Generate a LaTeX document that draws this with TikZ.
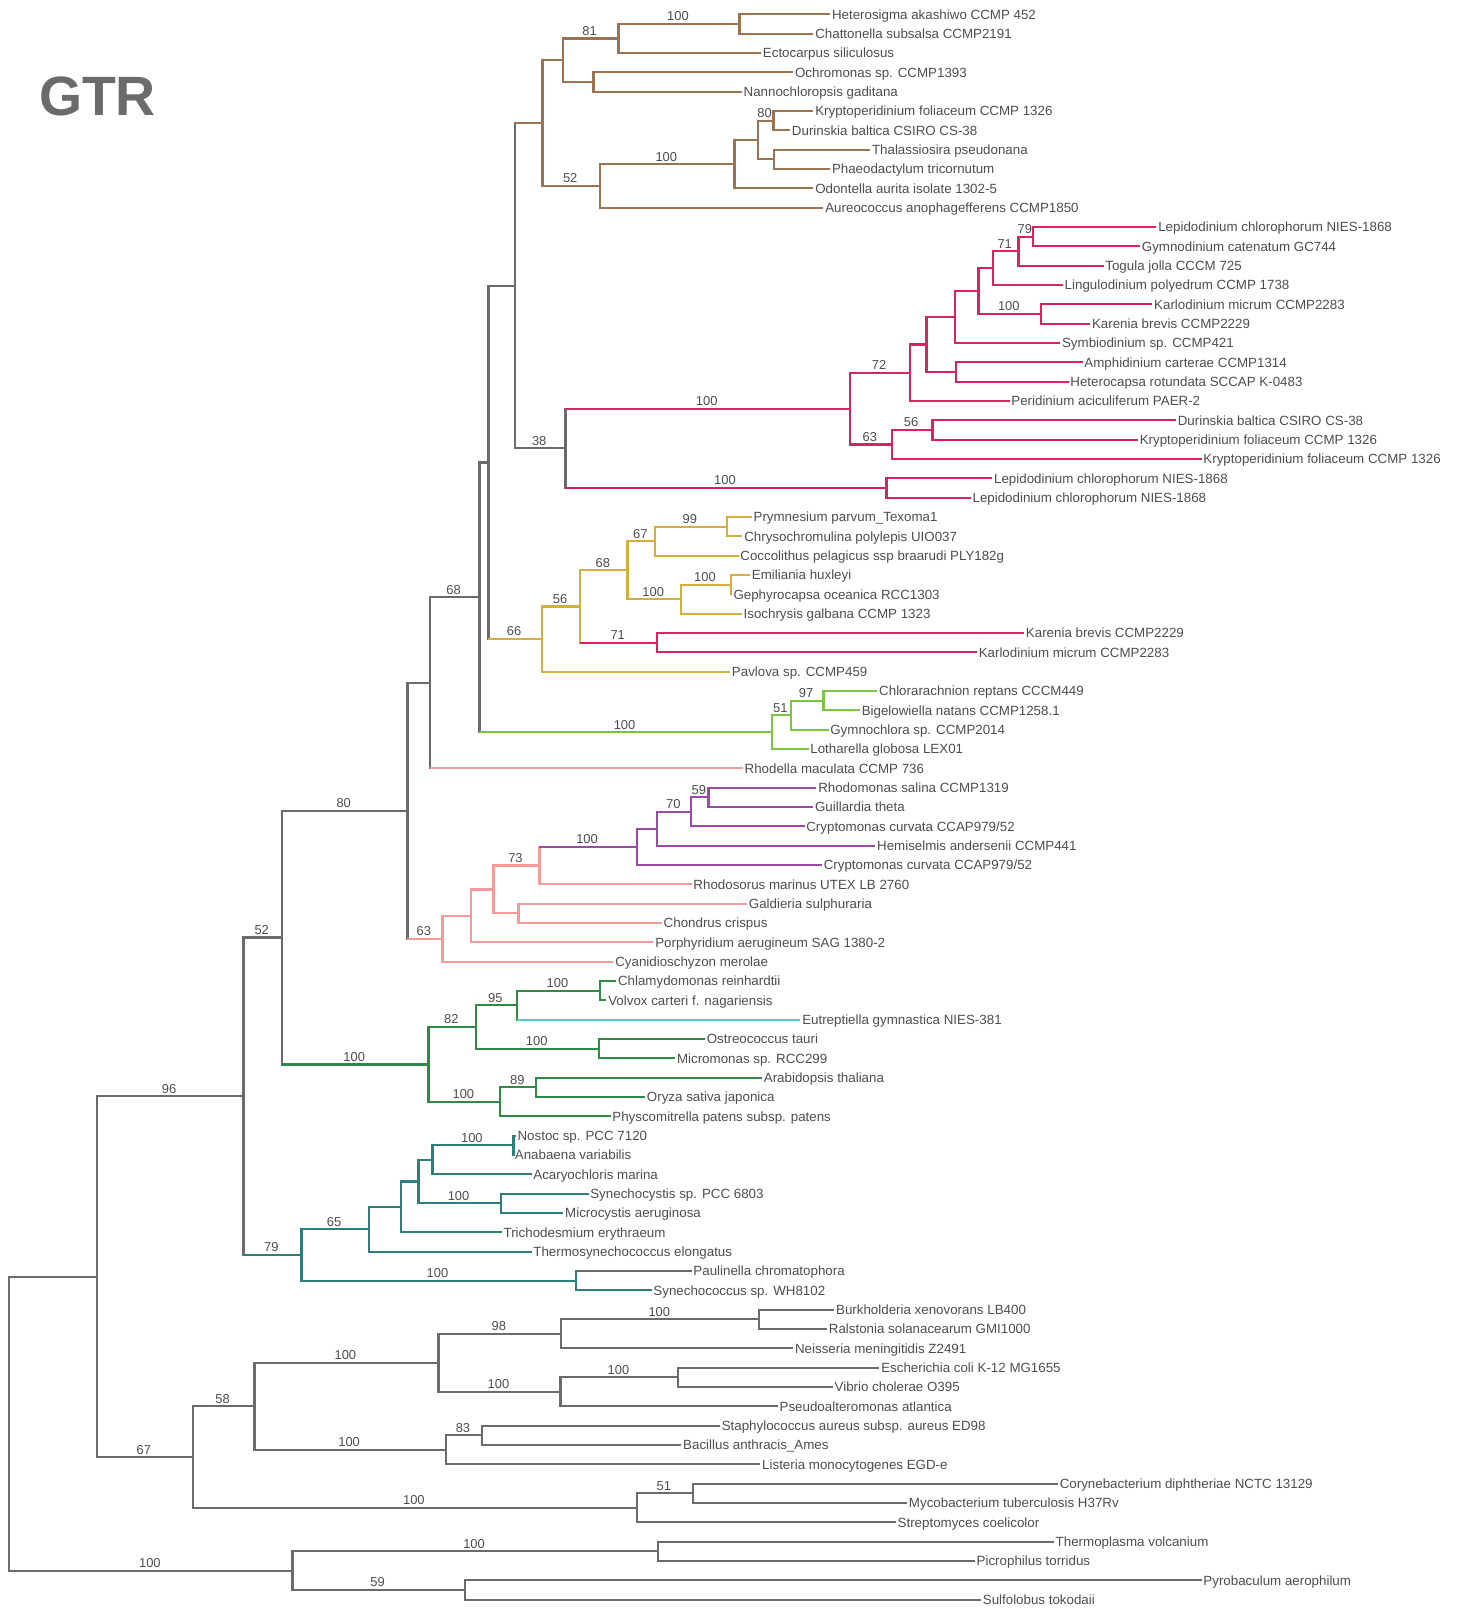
\documentclass[tikz,border=0pt]{standalone}
\usepackage{fontspec}
\setmainfont{Liberation Sans}
\usetikzlibrary{calc}
\definecolor{cB}{HTML}{9C7350}
\definecolor{cR}{HTML}{D8245C}
\definecolor{cY}{HTML}{D4AE3A}
\definecolor{cLG}{HTML}{7CC444}
\definecolor{cS}{HTML}{F49A9A}
\definecolor{cP}{HTML}{9C49A8}
\definecolor{cG}{HTML}{2F8A46}
\definecolor{cC}{HTML}{5CC6D0}
\definecolor{cT}{HTML}{2E7F7C}
\definecolor{cK}{HTML}{6B6B6B}
\definecolor{txt}{HTML}{4D4D4D}
\tikzset{
  brl/.style={line width=2.2pt},
  tiplab/.style={anchor=base west, inner sep=0pt, text=txt, font=\fontsize{13}{14}\selectfont},
  bsl/.style={anchor=base, inner sep=0pt, text=txt, font=\fontsize{12.6}{14}\selectfont},
}
\newcommand\tipnode[3]{%
  \coordinate (t#1) at (#2,{-(14+(#1-1)*18.84)});
  \node[tiplab] (l#1) at ([xshift=1.6pt,yshift=-4.7pt]t#1) {#3};
}
\newcommand\cladenode[7]{%
  \path let \p1=(#4), \p2=(#6) in coordinate (#1) at (#2pt,{0.5*(\y1+\y2)});
  \draw[brl,#3,line cap=rect] (#1|-#4) -- (#1|-#6);
  \draw[brl,#5] (#1|-#4) -- (#4);
  \draw[brl,#7] (#1|-#6) -- (#6);
}
\newcommand\bootlab[3]{%
  \path let \p1=(#1), \p2=(#2) in node[bsl] (bs-#2) at ({0.5*(\x1+\x2)-1pt},{\y2+3pt}) {#3};
}
\begin{document}
\begin{tikzpicture}[x=1pt,y=1pt]
\useasboundingbox (0,0) rectangle (1426,-1568);
\node[anchor=center, inner sep=0pt, text=cK, font=\fontsize{54}{60}\selectfont\bfseries] (title) at (95,-93.5) {GTR};
% tips
\tipnode{1}{809}{Heterosigma akashiwo CCMP 452}
\tipnode{2}{792.7}{Chattonella subsalsa CCMP2191}
\tipnode{3}{741.7}{Ectocarpus siliculosus}
\tipnode{4}{773}{Ochromonas sp. CCMP1393}
\tipnode{5}{722.9}{Nannochloropsis gaditana}
\tipnode{6}{792.7}{Kryptoperidinium foliaceum CCMP 1326}
\tipnode{7}{770}{Durinskia baltica CSIRO CS-38}
\tipnode{8}{848}{Thalassiosira pseudonana}
\tipnode{9}{809}{Phaeodactylum tricornutum}
\tipnode{10}{792.7}{Odontella aurita isolate 1302-5}
\tipnode{11}{802.5}{Aureococcus anophagefferens CCMP1850}
\tipnode{12}{1127}{Lepidodinium chlorophorum NIES-1868}
\tipnode{13}{1111}{Gymnodinium catenatum GC744}
\tipnode{14}{1075.4}{Togula jolla CCCM 725}
\tipnode{15}{1035.8}{Lingulodinium polyedrum CCMP 1738}
\tipnode{16}{1123}{Karlodinium micrum CCMP2283}
\tipnode{17}{1062.4}{Karenia brevis CCMP2229}
\tipnode{18}{1033.2}{Symbiodinium sp. CCMP421}
\tipnode{19}{1055}{Amphidinium carterae CCMP1314}
\tipnode{20}{1041.3}{Heterocapsa rotundata SCCAP K-0483}
\tipnode{21}{983.8}{Peridinium aciculiferum PAER-2}
\tipnode{22}{1146}{Durinskia baltica CSIRO CS-38}
\tipnode{23}{1108.9}{Kryptoperidinium foliaceum CCMP 1326}
\tipnode{24}{1171}{Kryptoperidinium foliaceum CCMP 1326}
\tipnode{25}{967}{Lepidodinium chlorophorum NIES-1868}
\tipnode{26}{946}{Lepidodinium chlorophorum NIES-1868}
\tipnode{27}{732.6}{Prymnesium parvum\_Texoma1}
\tipnode{28}{723.5}{Chrysochromulina polylepis UIO037}
\tipnode{29}{719.7}{Coccolithus pelagicus ssp braarudi PLY182g}
\tipnode{30}{731}{Emiliania huxleyi}
\tipnode{31}{713}{Gephyrocapsa oceanica RCC1303}
\tipnode{32}{722.9}{Isochrysis galbana CCMP 1323}
\tipnode{33}{998}{Karenia brevis CCMP2229}
\tipnode{34}{952}{Karlodinium micrum CCMP2283}
\tipnode{35}{711.5}{Pavlova sp. CCMP459}
\tipnode{36}{855}{Chlorarachnion reptans CCCM449}
\tipnode{37}{838}{Bigelowiella natans CCMP1258.1}
\tipnode{38}{807.4}{Gymnochlora sp. CCMP2014}
\tipnode{39}{787.9}{Lotharella globosa LEX01}
\tipnode{40}{723.9}{Rhodella maculata CCMP 736}
\tipnode{41}{795.6}{Rhodomonas salina CCMP1319}
\tipnode{42}{792.5}{Guillardia theta}
\tipnode{43}{784}{Cryptomonas curvata CCAP979/52}
\tipnode{44}{853}{Hemiselmis andersenii CCMP441}
\tipnode{45}{801}{Cryptomonas curvata CCAP979/52}
\tipnode{46}{674}{Rhodosorus marinus UTEX LB 2760}
\tipnode{47}{728}{Galdieria sulphuraria}
\tipnode{48}{645}{Chondrus crispus}
\tipnode{49}{636.8}{Porphyridium aerugineum SAG 1380-2}
\tipnode{50}{597.8}{Cyanidioschyzon merolae}
\tipnode{51}{600.5}{Chlamydomonas reinhardtii}
\tipnode{52}{591}{Volvox carteri f. nagariensis}
\tipnode{53}{780}{Eutreptiella gymnastica NIES-381}
\tipnode{54}{687}{Ostreococcus tauri}
\tipnode{55}{658}{Micromonas sp. RCC299}
\tipnode{56}{742.6}{Arabidopsis thaliana}
\tipnode{57}{628.7}{Oryza sativa japonica}
\tipnode{58}{595}{Physcomitrella patens subsp. patens}
\tipnode{59}{502.6}{Nostoc sp. PCC 7120}
\tipnode{60}{500}{Anabaena variabilis}
\tipnode{61}{518}{Acaryochloris marina}
\tipnode{62}{573.5}{Synechocystis sp. PCC 6803}
\tipnode{63}{549}{Microcystis aeruginosa}
\tipnode{64}{489}{Trichodesmium erythraeum}
\tipnode{65}{518}{Thermosynechococcus elongatus}
\tipnode{66}{674}{Paulinella chromatophora}
\tipnode{67}{635}{Synechococcus sp. WH8102}
\tipnode{68}{813}{Burkholderia xenovorans LB400}
\tipnode{69}{806}{Ralstonia solanacearum GMI1000}
\tipnode{70}{773}{Neisseria meningitidis Z2491}
\tipnode{71}{857}{Escherichia coli K-12 MG1655}
\tipnode{72}{811.6}{Vibrio cholerae O395}
\tipnode{73}{758}{Pseudoalteromonas atlantica}
\tipnode{74}{701.6}{Staphylococcus aureus subsp. aureus ED98}
\tipnode{75}{664}{Bacillus anthracis\_Ames}
\tipnode{76}{741}{Listeria monocytogenes EGD-e}
\tipnode{77}{1031}{Corynebacterium diphtheriae NCTC 13129}
\tipnode{78}{884}{Mycobacterium tuberculosis H37Rv}
\tipnode{79}{873}{Streptomyces coelicolor}
\tipnode{80}{1027}{Thermoplasma volcanium}
\tipnode{81}{950}{Picrophilus torridus}
\tipnode{82}{1171}{Pyrobaculum aerophilum}
\tipnode{83}{956}{Sulfolobus tokodaii}
% stramenopiles
\cladenode{n1}{720.6}{cB}{t1}{cB}{t2}{cB}
\cladenode{n2}{602.7}{cB}{n1}{cB}{t3}{cB}
\cladenode{n3}{578.3}{cB}{t4}{cB}{t5}{cB}
\cladenode{n4}{548.4}{cB}{n2}{cB}{n3}{cB}
\cladenode{n5}{753.8}{cB}{t6}{cB}{t7}{cB}
\cladenode{n6}{754.4}{cB}{t8}{cB}{t9}{cB}
\cladenode{n7}{738.5}{cB}{n5}{cB}{n6}{cB}
\cladenode{n8}{715.8}{cB}{n7}{cB}{t10}{cB}
\cladenode{n9}{584.8}{cB}{n8}{cB}{t11}{cB}
\cladenode{n10}{528.6}{cB}{n4}{cB}{n9}{cB}
% dinoflagellates
\cladenode{r1}{1007}{cR}{t12}{cR}{t13}{cR}
\cladenode{r2}{992.6}{cR}{r1}{cR}{t14}{cR}
\cladenode{r3}{967.6}{cR}{r2}{cR}{t15}{cR}
\cladenode{r4}{1014.7}{cR}{t16}{cR}{t17}{cR}
\cladenode{r5}{953.5}{cR}{r3}{cR}{r4}{cR}
\cladenode{r6}{930.5}{cR}{r5}{cR}{t18}{cR}
\cladenode{r7}{931.5}{cR}{t19}{cR}{t20}{cR}
\cladenode{r8}{903}{cR}{r6}{cR}{r7}{cR}
\cladenode{r9}{887}{cR}{r8}{cR}{t21}{cR}
\cladenode{r10}{908.8}{cR}{t22}{cR}{t23}{cR}
\cladenode{r11}{869}{cR}{r10}{cR}{t24}{cR}
\cladenode{r12}{828.5}{cR}{r9}{cR}{r11}{cR}
\cladenode{r13}{864}{cR}{t25}{cR}{t26}{cR}
\cladenode{g38}{551}{cK}{r12}{cR}{r13}{cR}
\cladenode{g502}{502}{cK}{n10}{cB}{g38}{cK}
% haptophytes
\cladenode{y1}{708.3}{cY}{t27}{cY}{t28}{cY}
\cladenode{y2}{638.4}{cY}{y1}{cY}{t29}{cY}
\cladenode{y3}{712.5}{cY}{t30}{cY}{t31}{cY}
\cladenode{y4}{663.6}{cY}{y3}{cY}{t32}{cY}
\cladenode{y5}{611.5}{cY}{y2}{cY}{y4}{cY}
\cladenode{y6}{640.5}{cR}{t33}{cR}{t34}{cR}
\cladenode{y7}{565.5}{cY}{y5}{cY}{y6}{cR}
\cladenode{y8}{528}{cY}{y7}{cY}{t35}{cY}
\cladenode{g477}{476}{cK}{g502}{cK}{y8}{cY}
% chlorarachniophytes
\cladenode{lg1}{802.5}{cLG}{t36}{cLG}{t37}{cLG}
\cladenode{lg2}{770.7}{cLG}{lg1}{cLG}{t38}{cLG}
\cladenode{lg3}{752.1}{cLG}{lg2}{cLG}{t39}{cLG}
\cladenode{g467}{467.2}{cK}{g477}{cK}{lg3}{cLG}
\cladenode{g419}{419}{cK}{g467}{cK}{t40}{cS}
% cryptophytes and red algae
\cladenode{p1}{690.5}{cP}{t41}{cP}{t42}{cP}
\cladenode{p2}{673.7}{cP}{p1}{cP}{t43}{cP}
\cladenode{p3}{640.5}{cP}{p2}{cP}{t44}{cP}
\cladenode{p4}{620.5}{cP}{p3}{cP}{t45}{cP}
\cladenode{s1}{525.7}{cS}{p4}{cP}{t46}{cS}
\cladenode{s2}{505.2}{cS}{t47}{cS}{t48}{cS}
\cladenode{s3}{480.9}{cS}{s1}{cS}{s2}{cS}
\cladenode{s4}{458.8}{cS}{s3}{cS}{t49}{cS}
\cladenode{s5}{431.2}{cS}{s4}{cS}{t50}{cS}
\cladenode{g397}{397}{cK}{g419}{cK}{s5}{cS}
% green lineage
\cladenode{v1}{584.8}{cG}{t51}{cG}{t52}{cG}
\cladenode{v2}{503.6}{cG}{v1}{cG}{t53}{cC}
\cladenode{v3}{584}{cG}{t54}{cG}{t55}{cG}
\cladenode{v4}{464}{cG}{v2}{cG}{v3}{cG}
\cladenode{v5}{522.6}{cG}{t56}{cG}{t57}{cG}
\cladenode{v6}{487.6}{cG}{v5}{cG}{t58}{cG}
\cladenode{v7}{417.5}{cG}{v4}{cG}{v6}{cG}
\cladenode{g275}{274.9}{cK}{g397}{cK}{v7}{cG}
% cyanobacteria
\cladenode{c1}{500.3}{cT}{t59}{cT}{t60}{cT}
\cladenode{c2}{421.4}{cT}{c1}{cT}{t61}{cT}
\cladenode{c3}{488}{cT}{t62}{cT}{t63}{cT}
\cladenode{c4}{407.8}{cT}{c2}{cT}{c3}{cT}
\cladenode{c5}{391}{cT}{c4}{cT}{t64}{cT}
\cladenode{c6}{359.5}{cT}{c5}{cT}{t65}{cT}
\cladenode{c7}{561}{cT}{t66}{cK}{t67}{cT}
\cladenode{c8}{293.7}{cT}{c6}{cT}{c7}{cT}
\cladenode{g237}{237.2}{cK}{g275}{cK}{c8}{cT}
% bacteria
\cladenode{b1}{740}{cK}{t68}{cK}{t69}{cK}
\cladenode{b2}{547}{cK}{b1}{cK}{t70}{cK}
\cladenode{b3}{661}{cK}{t71}{cK}{t72}{cK}
\cladenode{b4}{546.3}{cK}{b3}{cK}{t73}{cK}
\cladenode{b5}{427.2}{cK}{b2}{cK}{b4}{cK}
\cladenode{b6}{469.8}{cK}{t74}{cK}{t75}{cK}
\cladenode{b7}{434.5}{cK}{b6}{cK}{t76}{cK}
\cladenode{b8}{248}{cK}{b5}{cK}{b7}{cK}
\cladenode{b9}{675.2}{cK}{t77}{cK}{t78}{cK}
\cladenode{b10}{620.6}{cK}{b9}{cK}{t79}{cK}
\cladenode{b11}{188}{cK}{b8}{cK}{b10}{cK}
\cladenode{g94}{94.2}{cK}{g237}{cK}{b11}{cK}
% archaea
\cladenode{a1}{641}{cK}{t80}{cK}{t81}{cK}
\cladenode{a2}{453}{cK}{t82}{cK}{t83}{cK}
\cladenode{a3}{285}{cK}{a1}{cK}{a2}{cK}
\cladenode{root}{9.1}{cK}{g94}{cK}{a3}{cK}
% support values
\bootlab{n2}{n1}{100}
\bootlab{n4}{n2}{81}
\bootlab{n7}{n5}{80}
\bootlab{n9}{n8}{100}
\bootlab{n10}{n9}{52}
\bootlab{r2}{r1}{79}
\bootlab{r3}{r2}{71}
\bootlab{r5}{r4}{100}
\bootlab{r12}{r9}{72}
\bootlab{r11}{r10}{56}
\bootlab{r12}{r11}{63}
\bootlab{g38}{r12}{100}
\bootlab{g38}{r13}{100}
\bootlab{g502}{g38}{38}
\bootlab{y2}{y1}{99}
\bootlab{y5}{y2}{67}
\bootlab{y4}{y3}{100}
\bootlab{y5}{y4}{100}
\bootlab{y7}{y5}{68}
\bootlab{y7}{y6}{71}
\bootlab{y8}{y7}{56}
\bootlab{g477}{y8}{66}
\bootlab{lg2}{lg1}{97}
\bootlab{lg3}{lg2}{51}
\bootlab{g467}{lg3}{100}
\bootlab{g419}{g467}{68}
\bootlab{p2}{p1}{59}
\bootlab{p3}{p2}{70}
\bootlab{s1}{p4}{100}
\bootlab{s3}{s1}{73}
\bootlab{g397}{s5}{63}
\bootlab{g275}{g397}{80}
\bootlab{v2}{v1}{100}
\bootlab{v4}{v2}{95}
\bootlab{v4}{v3}{100}
\bootlab{v7}{v4}{82}
\bootlab{v6}{v5}{89}
\bootlab{v7}{v6}{100}
\bootlab{g275}{v7}{100}
\bootlab{g237}{g275}{52}
\bootlab{c2}{c1}{100}
\bootlab{c4}{c3}{100}
\bootlab{c8}{c6}{65}
\bootlab{c8}{c7}{100}
\bootlab{g237}{c8}{79}
\bootlab{g94}{g237}{96}
\bootlab{b2}{b1}{100}
\bootlab{b5}{b2}{98}
\bootlab{b4}{b3}{100}
\bootlab{b5}{b4}{100}
\bootlab{b8}{b5}{100}
\bootlab{b7}{b6}{83}
\bootlab{b8}{b7}{100}
\bootlab{b11}{b8}{58}
\bootlab{b10}{b9}{51}
\bootlab{b11}{b10}{100}
\bootlab{g94}{b11}{67}
\bootlab{a3}{a1}{100}
\bootlab{a3}{a2}{59}
\bootlab{root}{a3}{100}
\end{tikzpicture}
\end{document}
